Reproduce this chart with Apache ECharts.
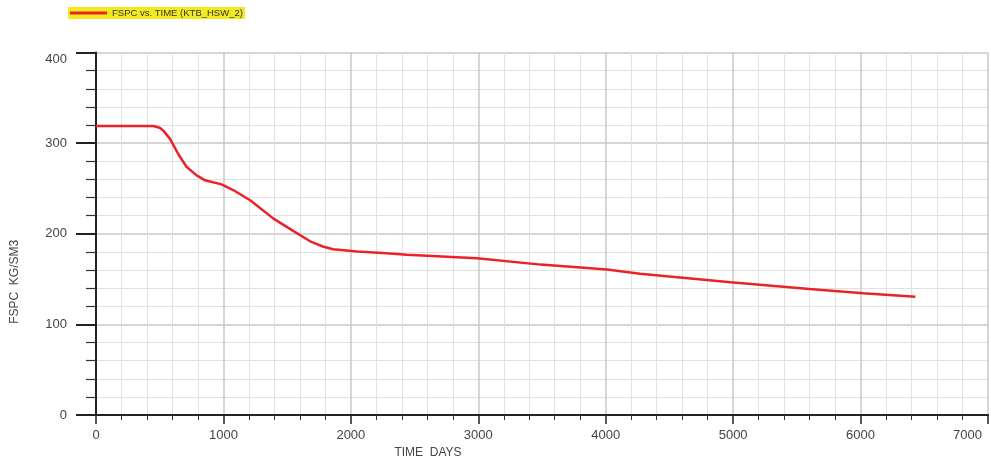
<!DOCTYPE html>
<html>
<head>
<meta charset="utf-8">
<script src="https://cdn.jsdelivr.net/npm/echarts@6/dist/echarts.min.js"></script>
<style>
html,body{margin:0;padding:0;background:#fff;}
#chart{width:991px;height:464px;}
</style>
</head>
<body>
<div id="chart"></div>
<script>
// Data
const seriesName = 'FSPC vs. TIME (KTB_HSW_2)';
const timeDays = [0, 450, 500, 530, 580, 645, 710, 790, 855, 985, 1080, 1210, 1390, 1550, 1690, 1780, 1860, 2050, 2280, 2440, 2990, 3490, 4010, 4270, 4980, 5600, 6020, 6430];
const fspc     = [319, 319, 317, 313.5, 305, 288, 274, 264.5, 259, 254.5, 248, 237, 217, 203, 191, 186, 183, 180.5, 178.5, 177, 173, 166, 160.5, 156, 146.5, 139, 134.5, 130.5];
const xAxisName = 'TIME  DAYS';
const yAxisName = 'FSPC  KG/SM3';
const xMax = 7000;

const points = timeDays.map((t, i) => [t, fspc[i]]);

const font = 'Liberation Sans, Arial, sans-serif';
const chart = echarts.init(document.getElementById('chart'), null, {renderer: 'canvas'});
chart.setOption({
  animation: false,
  backgroundColor: '#ffffff',
  legend: {
    left: 68, top: 7,
    backgroundColor: '#f0ea1e',
    padding: [1, 2, 1, 2],
    icon: 'rect',
    itemWidth: 37, itemHeight: 3,
    textStyle: {fontSize: 9.5, color: '#333', fontFamily: font, lineHeight: 10},
    data: [seriesName]
  },
  grid: {left: 96, right: 3, top: 52.5, bottom: 45, containLabel: false},
  xAxis: {
    type: 'value', min: 0, max: xMax, interval: 1000,
    name: xAxisName, nameLocation: 'middle', nameGap: 31,
    nameTextStyle: {fontSize: 12, color: '#444', fontFamily: font, padding: [0, 228, 0, 0]},
    axisLine: {show: true, onZero: false, lineStyle: {color: '#222', width: 2}},
    axisTick: {show: true, length: 9, lineStyle: {color: '#222', width: 1.5}},
    minorTick: {show: true, splitNumber: 5, length: 5, lineStyle: {color: '#333', width: 1}},
    axisLabel: {fontSize: 13, color: '#444', fontFamily: font, margin: 14, alignMaxLabel: 'right',
      formatter: v => v === xMax ? '{m|' + v + '}' : String(v),
      rich: {m: {fontSize: 13, color: '#444', fontFamily: font, padding: [0, 6, 0, 0]}}},
    splitLine: {show: true, lineStyle: {color: '#c8c8c8', width: 1.5}},
    minorSplitLine: {show: true, lineStyle: {color: '#e1e1e1', width: 1}}
  },
  yAxis: {
    type: 'value', min: 0, max: 400, interval: 100,
    name: yAxisName, nameLocation: 'middle', nameGap: 75,
    nameTextStyle: {fontSize: 12, color: '#444', fontFamily: font, padding: [0, 96, 0, 0]},
    axisLine: {show: true, onZero: false, lineStyle: {color: '#222', width: 2}},
    axisTick: {show: true, length: 20, lineStyle: {color: '#222', width: 2}},
    minorTick: {show: true, splitNumber: 5, length: 10, lineStyle: {color: '#333', width: 1.2}},
    axisLabel: {fontSize: 13, color: '#444', fontFamily: font, margin: 29,
      verticalAlignMaxLabel: 'top', formatter: v => String(v)},
    splitLine: {show: true, lineStyle: {color: '#c8c8c8', width: 1.5}},
    minorSplitLine: {show: true, lineStyle: {color: '#e1e1e1', width: 1}}
  },
  series: [{
    name: seriesName,
    type: 'line',
    data: points,
    showSymbol: false,
    smooth: false,
    lineStyle: {color: '#ec2229', width: 2.5},
    itemStyle: {color: '#ec2229'}
  }]
});
</script>
</body>
</html>
